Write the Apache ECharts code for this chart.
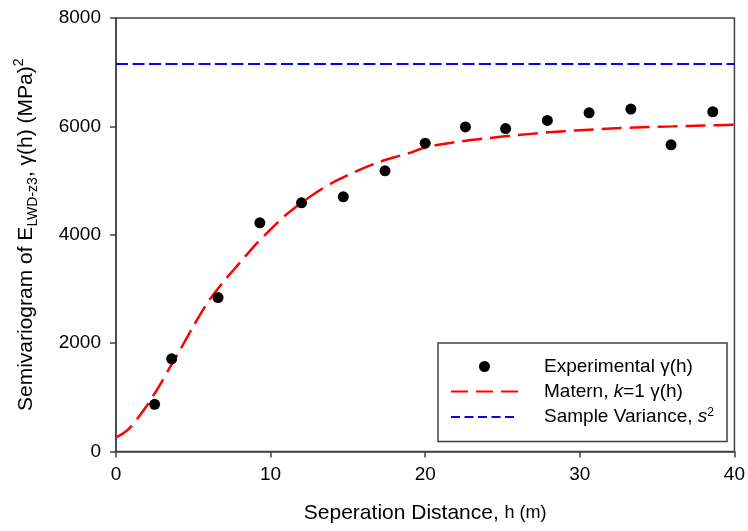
<!DOCTYPE html>
<html>
<head>
<meta charset="utf-8">
<script src="https://cdn.jsdelivr.net/npm/echarts@6/dist/echarts.min.js"></script>
<style>
  html, body { margin: 0; padding: 0; background: #ffffff; }
  #chart { width: 748px; height: 531px; }
</style>
</head>
<body>
<div id="chart"></div>
<script>
// Experimental semivariogram: lag distance h (m) and gamma(h) (MPa^2)
const lagDistance = [2.5, 3.6, 6.6, 9.3, 12.0, 14.7, 17.4, 20.0, 22.6, 25.2, 27.9, 30.6, 33.3, 35.9, 38.6];
const experimentalGamma = [870, 1710, 2840, 4220, 4590, 4700, 5180, 5690, 5990, 5960, 6110, 6250, 6320, 5660, 6270];

// Fitted Matern (k = 1) model curve
const maternLag = [0, 0.5, 1, 1.5, 2, 2.5, 3, 3.5, 4, 5, 6, 7, 8, 9, 10, 11, 12, 13, 14, 15, 16, 17, 18, 19, 20, 22, 24, 26, 28, 30, 32, 34, 36, 38, 40];
const maternGamma = [260, 340, 470, 650, 850, 1070, 1310, 1560, 1800, 2310, 2780, 3150, 3480, 3810, 4100, 4370, 4590, 4790, 4960, 5100, 5230, 5340, 5430, 5510, 5610, 5710, 5780, 5840, 5890, 5930, 5960, 5985, 6000, 6015, 6030];

// Sample variance s^2
const sampleVariance = 7150;

// Axis ticks
const xTicks = [0, 10, 20, 30, 40];
const yTicks = [0, 2000, 4000, 6000, 8000];

const FONT = '"Liberation Sans", Arial, sans-serif';
const AXIS_COLOR = '#404040';

const pair = (xs, ys) => xs.map((x, i) => [x, ys[i]]);

const chart = echarts.init(document.getElementById('chart'), null, { renderer: 'canvas' });

const axisCommon = {
  axisLine: { show: true, onZero: false, lineStyle: { color: AXIS_COLOR, width: 1.5 } },
  axisTick: { show: true, inside: false, length: 6, lineStyle: { color: AXIS_COLOR, width: 1.5 } },
  splitLine: { show: false },
  axisLabel: { color: '#000', fontFamily: FONT, fontSize: 19, formatter: (v) => String(v) }
};

chart.setOption({
  animation: false,
  backgroundColor: '#ffffff',
  grid: {
    left: 116, right: 11, top: 18, bottom: 79.5,
    show: true, borderColor: AXIS_COLOR, borderWidth: 1.5, backgroundColor: 'transparent'
  },
  xAxis: Object.assign({}, axisCommon, {
    type: 'value',
    min: xTicks[0], max: xTicks[xTicks.length - 1], interval: xTicks[1] - xTicks[0],
    axisLabel: Object.assign({}, axisCommon.axisLabel, { margin: 14 }),
    name: '{t|Seperation Distance, }{s|h (m)}',
    nameLocation: 'middle',
    nameGap: 49,
    nameTextStyle: {
      rich: {
        t: { fontFamily: FONT, fontSize: 21, color: '#000', lineHeight: 26 },
        s: { fontFamily: FONT, fontSize: 18, color: '#000', lineHeight: 26 }
      }
    }
  }),
  yAxis: Object.assign({}, axisCommon, {
    type: 'value',
    min: yTicks[0], max: yTicks[yTicks.length - 1], interval: yTicks[1] - yTicks[0],
    axisLabel: Object.assign({}, axisCommon.axisLabel, { margin: 15 }),
    name: '{t|Semivariogram of E}{sub|LWD-z3}{t|, γ(h) (MPa)}{sup|2}',
    nameLocation: 'middle',
    nameRotate: 90,
    nameGap: 76,
    nameTextStyle: {
      rich: {
        t: { fontFamily: FONT, fontSize: 21, color: '#000', lineHeight: 28 },
        sub: { fontFamily: FONT, fontSize: 14, color: '#000', lineHeight: 12, verticalAlign: 'bottom' },
        sup: { fontFamily: FONT, fontSize: 14, color: '#000', lineHeight: 12, verticalAlign: 'top' }
      }
    }
  }),
  legend: {
    orient: 'vertical',
    left: 438,
    top: 343,
    padding: [14, 13, 15, 12],
    itemGap: 6,
    itemWidth: 67,
    itemHeight: 11,
    borderColor: AXIS_COLOR,
    borderWidth: 1.5,
    backgroundColor: '#ffffff',
    data: [
      { name: 'Experimental', icon: 'circle' },
      { name: 'Matern', itemStyle: { opacity: 0 }, lineStyle: { type: [17, 8] } },
      { name: 'Sample Variance', itemStyle: { opacity: 0 }, lineStyle: { type: [9, 4.5] } }
    ],
    formatter: function (name) {
      if (name === 'Experimental') return '{n|Experimental γ(h)}';
      if (name === 'Matern') return '{n|Matern, }{i|k}{n|=1 γ(h)}';
      return '{n|Sample Variance, }{i|s}{sup|2}';
    },
    textStyle: {
      padding: [0, 0, 0, 21],
      rich: {
        n: { fontFamily: FONT, fontSize: 19, color: '#000', lineHeight: 20 },
        i: { fontFamily: FONT, fontSize: 19, fontStyle: 'italic', color: '#000', lineHeight: 20 },
        sup: { fontFamily: FONT, fontSize: 12, color: '#000', lineHeight: 10, verticalAlign: 'top' }
      }
    }
  },
  series: [
    {
      name: 'Experimental',
      type: 'scatter',
      data: pair(lagDistance, experimentalGamma),
      symbol: 'circle',
      symbolSize: 11,
      itemStyle: { color: '#000000', opacity: 1 },
      z: 5
    },
    {
      name: 'Matern',
      type: 'line',
      data: pair(maternLag, maternGamma),
      smooth: 0.3,
      showSymbol: false,
      symbol: 'none',
      itemStyle: { color: '#ff0000' },
      lineStyle: { color: '#ff0000', width: 2.5, type: [20, 8] },
      z: 3
    },
    {
      name: 'Sample Variance',
      type: 'line',
      data: [[xTicks[0], sampleVariance], [xTicks[xTicks.length - 1], sampleVariance]],
      showSymbol: false,
      symbol: 'none',
      itemStyle: { color: '#0000ff' },
      lineStyle: { color: '#0000ff', width: 2, type: [12, 4.5] },
      z: 3
    }
  ]
});
</script>
</body>
</html>
